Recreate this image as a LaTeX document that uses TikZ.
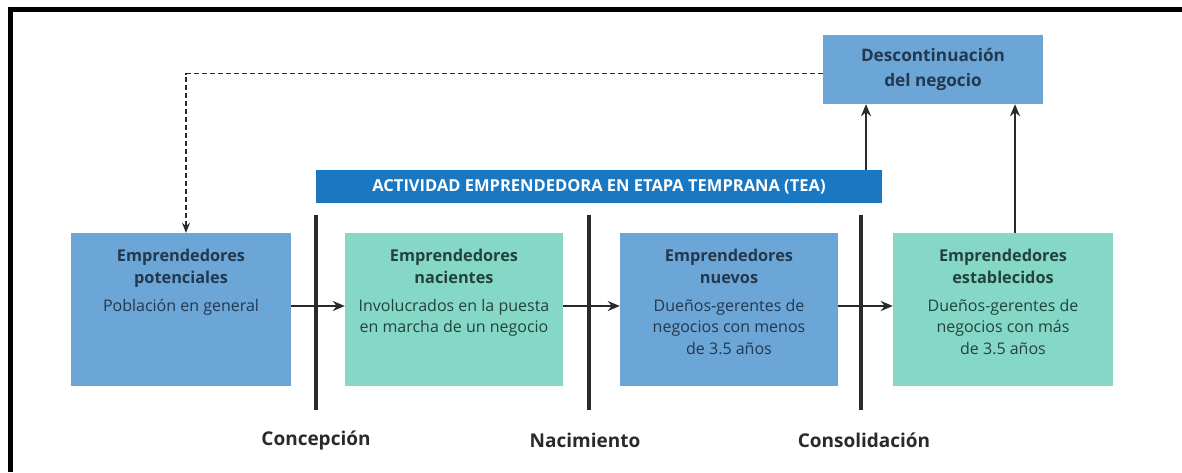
\documentclass[tikz,border=0pt]{standalone}
\usepackage{fontspec}
\setmainfont{Open Sans}
\usetikzlibrary{arrows.meta}
\definecolor{boxblue}{HTML}{6CA6D6}
\definecolor{boxteal}{HTML}{86D8C6}
\definecolor{teablue}{HTML}{1A78C2}
\definecolor{txtblue}{HTML}{22384F}
\definecolor{txtteal}{HTML}{23423E}
\definecolor{linec}{HTML}{2A2A2A}
\tikzset{
  stagebox/.style={draw=none, minimum height=153pt, inner sep=0pt},
  bluebox/.style={stagebox, fill=boxblue, minimum width=220pt},
  tealbox/.style={stagebox, fill=boxteal, minimum width=218pt},
  titletxt/.style={anchor=north, align=center, inner sep=0pt, font=\fontsize{16.3}{22}\selectfont\bfseries},
  bodytxt/.style={anchor=north, align=center, inner sep=0pt, font=\fontsize{16}{21.5}\selectfont},
  arr/.style={draw=linec, line width=2pt, -{Stealth[length=12pt,width=10pt]}},
  bar/.style={draw=linec, line width=4pt},
  phase/.style={font=\fontsize{19}{22}\selectfont\bfseries, text=linec, inner sep=0pt},
  dashline/.style={draw=linec, line width=1.3pt, dash pattern=on 5pt off 3pt, -{Stealth[length=10pt,width=8pt]}}
}
\begin{document}
\begin{tikzpicture}[x=1pt,y=-1pt]
\useasboundingbox (0,0) rectangle (1182,472);
\fill[white] (0,0) rectangle (1182,472);
% frame
\draw[line width=5pt, black] (1182,9.5) -- (10.5,9.5) -- (10.5,472);

% boxes
\node[bluebox] (b1) at (181,309.5) {};
\node[tealbox] (b2) at (454,309.5) {};
\node[bluebox, minimum width=218pt] (b3) at (729,309.5) {};
\node[bluebox, fill=boxteal] (b4) at (1003,309.5) {};

\node[fill=boxblue, minimum width=220pt, minimum height=69pt, inner sep=0pt, align=center,
      text=txtblue, font=\fontsize{17.2}{25}\selectfont\bfseries] (desc) at (933,69.5) {Descontinuación\\del negocio};
\node[fill=teablue, minimum width=566pt, minimum height=33pt, inner sep=0pt, text=white,
      font=\fontsize{16.5}{18}\selectfont\bfseries] (tea) at (599,186.5) {ACTIVIDAD EMPRENDEDORA EN ETAPA TEMPRANA (TEA)};

% texts
\node[titletxt, text=txtblue] (t1) at (181,249) {Emprendedores\\potenciales};
\node[bodytxt, text=txtblue] (d1) at (181,299) {Población en general};
\node[titletxt, text=txtteal] (t2) at (454,249) {Emprendedores\\nacientes};
\node[bodytxt, text=txtteal] (d2) at (454,299) {Involucrados en la puesta\\en marcha de un negocio};
\node[titletxt, text=txtblue] (t3) at (729,249) {Emprendedores\\nuevos};
\node[bodytxt, text=txtblue] (d3) at (729,299) {Dueños-gerentes de\\negocios con menos\\de 3.5 años};
\node[titletxt, text=txtteal] (t4) at (1003,249) {Emprendedores\\establecidos};
\node[bodytxt, text=txtteal] (d4) at (1003,299) {Dueños-gerentes de\\negocios con más\\de 3.5 años};

% phase bars
\coordinate (c1t) at (316,215); \coordinate (c1b) at (316,410);
\coordinate (c2t) at (589,215); \coordinate (c2b) at (589,410);
\coordinate (c3t) at (861,215); \coordinate (c3b) at (861,410);
\draw[bar] (c1t) -- (c1b);
\draw[bar] (c2t) -- (c2b);
\draw[bar] (c3t) -- (c3b);
\node[phase] (l1) at (316,440) {Concepción};
\node[phase] (l2) at (585,440) {Nacimiento};
\node[phase] (l3) at (864,440) {Consolidación};

% arrows
\draw[arr] ([yshift=3.5pt]b1.east) -- ([yshift=3.5pt]b2.west);
\draw[arr] ([yshift=3.5pt]b2.east) -- ([yshift=3.5pt]b3.west);
\draw[arr] ([yshift=3.5pt]b3.east) -- ([yshift=3.5pt]b4.west);
\draw[arr] (tea.north -| 866,0) -- (desc.south -| 866,0);
\draw[arr] (b4.north -| 1015,0) -- (desc.south -| 1015,0);
\draw[dashline] ([yshift=-4pt]desc.west) -| ([xshift=5pt]b1.north);
\end{tikzpicture}
\end{document}
